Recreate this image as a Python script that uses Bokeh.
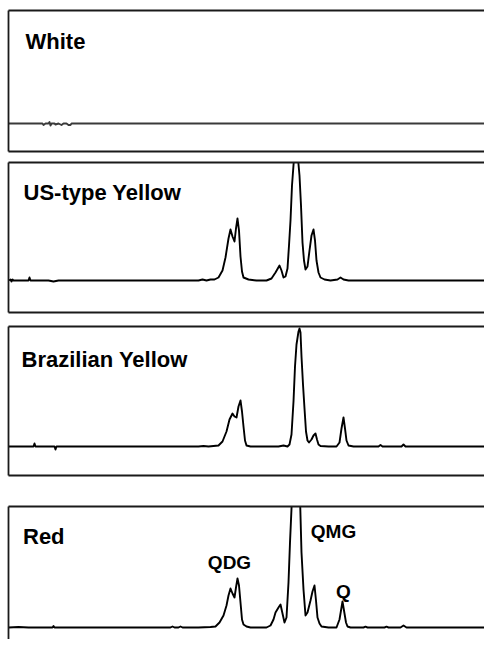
from bokeh.plotting import figure
from bokeh.models import LinearAxis, FixedTicker, Label, Range1d
from bokeh.layouts import column
from bokeh.embed import file_html
from bokeh.resources import INLINE

# ---- data (retention time, detector response) ----
panel_titles = ["White", "US-type Yellow", "Brazilian Yellow", "Red"]

white_t = [0.0, 3.4, 3.5, 3.7, 4.0, 4.1, 4.2, 4.3, 4.6, 4.7, 5.0, 5.3, 5.5, 5.8, 6.0, 6.2, 6.3, 48.2]
white_y = [0, 0, -1.5, 0, 0, 1.5, -2, 0, 0, -1, 0, -1.5, 0, 0, -1.5, -1.5, 0, 0]

us_t = [0.0, 0.2, 0.3, 0.4, 0.5, 2.0, 2.1, 2.2, 4.0, 4.5, 5.0, 19.0, 19.4, 19.8, 20.2, 20.6,
        21.0, 21.4, 21.7, 22.0, 22.2, 22.4, 22.6, 22.75, 22.9, 23.05, 23.2, 23.35, 23.5, 24.0,
        24.8, 25.8, 26.3, 26.7, 27.1, 27.3, 27.5, 27.7, 27.9, 28.05, 28.2, 28.35, 28.55, 28.95,
        29.1, 29.25, 29.4, 29.55, 29.7, 29.9, 30.1, 30.3, 30.5, 30.65, 30.8, 31.0, 31.2, 31.6,
        32.2, 32.9, 33.2, 33.5, 34.0, 39.0, 48.2]
us_y = [0, 1, -1, 1, 0, 0, 3, 0, 0, -1, 0, 0, 1, 0, 1, 1,
        3, 10, 23, 42, 51, 44, 39, 52, 62, 50, 24, 9, 3, 1,
        0, 0, 2, 8, 15, 10, 3, 4, 12, 35, 60, 95, 122, 122,
        105, 75, 38, 20, 11, 14, 30, 45, 51, 40, 20, 8, 3, 1,
        0, 1, 3, 1, 0, 0, 0]

br_t = [0.0, 2.5, 2.6, 2.7, 4.6, 4.7, 4.8, 19.0, 19.5, 20.0, 20.5, 21.0, 21.4, 21.8, 22.1,
        22.4, 22.6, 22.8, 23.0, 23.2, 23.35, 23.5, 23.65, 23.8, 24.2, 27.0, 27.5, 27.9, 28.1,
        28.3, 28.5, 28.65, 28.8, 29.0, 29.1, 29.2, 29.3, 29.45, 29.6, 29.75, 29.9, 30.05, 30.3,
        30.5, 30.7, 30.85, 31.0, 31.2, 32.0, 32.8, 33.1, 33.3, 33.5, 33.65, 33.8, 34.0, 34.5,
        37.0, 37.2, 37.4, 39.3, 39.5, 39.7, 48.2]
br_y = [0, 0, 3, 0, 0, -3, 0, 0, 0.5, 0, 0.5, 1, 5, 15, 27,
        33, 30, 29, 40, 46, 35, 20, 6, 1, 0, 0, 1, 0, 2,
        12, 45, 80, 102, 115, 118, 114, 90, 62, 38, 15, 6, 4, 7,
        11, 13, 7, 2, 0.5, 0, 0, 4, 18, 29, 18, 6, 1, 0,
        0, 1.5, 0, 0, 2, 0, 0]

red_t = [0.0, 1.0, 2.0, 4.4, 4.5, 4.6, 16.2, 16.4, 16.6, 17.0, 17.2, 17.4, 19.0, 20.2, 20.7,
         21.1, 21.5, 21.8, 22.0, 22.2, 22.4, 22.6, 22.75, 22.9, 23.05, 23.2, 23.35, 23.5, 23.8,
         24.2, 25.8, 26.2, 26.5, 26.7, 27.0, 27.2, 27.4, 27.6, 27.8, 28.0, 28.15, 28.35, 28.75,
         29.15, 29.3, 29.5, 29.7, 29.9, 30.2, 30.4, 30.6, 30.75, 30.9, 31.1, 31.3, 32.0, 32.8,
         33.1, 33.4, 33.6, 33.75, 33.9, 34.2, 35.5, 35.7, 35.9, 37.6, 37.8, 38.0, 39.2, 39.5,
         39.8, 48.2]
red_y = [0, 0.5, 0, 0, 1.5, 0, 0, 1, 0, 0, 1, 0, 0, 0.5, 1,
         5, 12, 22, 32, 39, 34, 30, 40, 49, 42, 25, 8, 3, 1,
         0, 0, 2, 8, 15, 20, 23, 14, 5, 10, 45, 85, 130, 260,
         130, 75, 38, 12, 15, 27, 36, 42, 27, 10, 4, 1, 0, 0,
         8, 26, 14, 5, 1, 0, 0, 0.8, 0, 0, 0.8, 0, 0, 2,
         0, 0]

peak_labels = ["QDG", "QMG", "Q"]
peak_label_t = [22.1, 32.5, 33.5]
peak_label_y = [65, 96, 36]

# ---- layout / style ----
LEFT = 8
FRAME_W = 476
W = LEFT + FRAME_W
X_END = FRAME_W / 10.0
FONT = "Liberation Sans"
BORDER = "#1a1a1a"

panels = [
    # (t, y, y_range, height, border_top, border_bottom, title_t, title_y, bottom_line)
    (white_t, white_y, (-28, 113), 156, 10, 5, 1.7, 82, True),
    (us_t, us_y, (-32, 118), 163, 6, 7, 1.5, 88, True),
    (br_t, br_y, (-29, 120), 170, 7, 14, 1.3, 87, True),
    (red_t, red_y, (-12, 121), 150, 17, 0, 1.45, 91, False),
]


def style_axis(ax):
    ax.ticker = FixedTicker(ticks=[])
    ax.major_tick_out = 0
    ax.major_tick_in = 0
    ax.minor_tick_out = 0
    ax.minor_tick_in = 0
    ax.major_label_standoff = 0
    ax.major_label_text_font_size = "0px"
    ax.axis_line_color = BORDER
    ax.axis_line_width = 1.8


figs = []
for i, (t, y, yr, h, bt, bb, tt, ty, bottom_line) in enumerate(panels):
    p = figure(width=W, height=h, output_backend="svg", toolbar_location=None,
               x_range=Range1d(0, X_END), y_range=Range1d(*yr),
               x_axis_location="below" if bottom_line else "above",
               min_border_left=LEFT, min_border_right=0,
               min_border_top=bt, min_border_bottom=bb)
    p.outline_line_color = None
    p.grid.visible = False
    p.background_fill_color = "white"
    p.border_fill_color = "white"
    for ax in p.axis:
        style_axis(ax)
    if bottom_line:
        top_ax = LinearAxis()
        style_axis(top_ax)
        p.add_layout(top_ax, "above")
    line_color = "#3a3a3a" if i == 0 else "black"
    p.line(t, y, line_color=line_color, line_width=1.9, line_join="round")
    p.add_layout(Label(x=tt, y=ty, text=panel_titles[i], text_font=FONT,
                       text_font_style="bold", text_font_size="22px",
                       text_color="black", text_baseline="alphabetic", text_align="left"))
    if i == 3:
        for lab, lx, ly in zip(peak_labels, peak_label_t, peak_label_y):
            p.add_layout(Label(x=lx, y=ly, text=lab, text_font=FONT,
                               text_font_style="bold", text_font_size="19px",
                               text_color="black", text_baseline="alphabetic",
                               text_align="center"))
    figs.append(p)

layout = column(*figs, spacing=0)
open("out.html", "w").write(file_html(layout, INLINE))
